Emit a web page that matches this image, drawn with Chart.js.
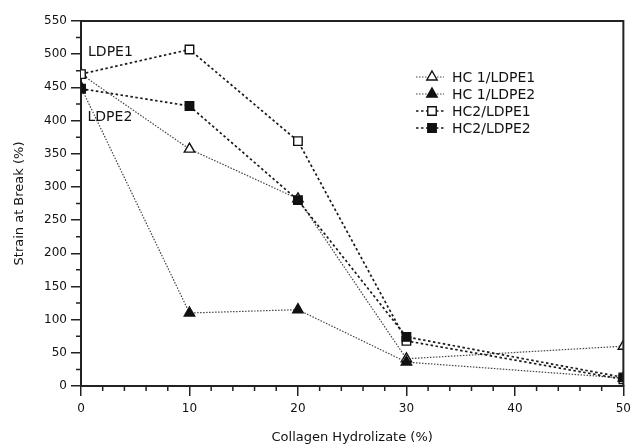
<html lang="en">
<head>
    <meta charset="UTF-8">
    <style>
        body { margin: 0; background: #fff; }
        #wrap { width: 637px; height: 448px; }
    </style>
    <script src="https://cdn.jsdelivr.net/npm/chart.js"></script>
</head>
<body>
<div id="wrap"><canvas id="chart" width="637" height="448"></canvas></div>
<script>
    // collagen hydrolizate content (%)
    const hydrolizate = [0, 10, 20, 30, 50];

    const seriesNames = ["HC1/LDPE1", "HC1/LDPE2", "HC2/LDPE1", "HC2/LDPE2"];
    const legendNames = ["HC 1/LDPE1", "HC 1/LDPE2", "HC2/LDPE1", "HC2/LDPE2"];

    // strain at break (%)
    const hc1Ldpe1 = [470, 357, 282, 41, 60];
    const hc1Ldpe2 = [450, 110, 115, 36, 12];
    const hc2Ldpe1 = [470, 507, 369, 68, 10];
    const hc2Ldpe2 = [448, 422, 280, 74, 13];

    const yTicks = [0, 50, 100, 150, 200, 250, 300, 350, 400, 450, 500, 550];
    const xTicks = [0, 10, 20, 30, 40, 50];

    // text notes next to the y axis
    const noteTexts = ["LDPE1", "LDPE2"];
    const noteX = [0.65, 0.6];
    const noteY = [502, 405];

    const styles = [
        { color: "#444", width: 1.2, dash: [1.5, 1.5], shape: "triangle", fill: "#fff" },
        { color: "#444", width: 1.2, dash: [1.5, 1.5], shape: "triangle", fill: "#111" },
        { color: "#1a1a1a", width: 1.7, dash: [2.5, 2.5], shape: "rect", fill: "#fff" },
        { color: "#1a1a1a", width: 1.7, dash: [2.5, 2.5], shape: "rect", fill: "#111" }
    ];

    const allValues = [hc1Ldpe1, hc1Ldpe2, hc2Ldpe1, hc2Ldpe2];

    function toPoints(values) {
        return hydrolizate.map((x, i) => ({ x: x, y: values[i] }));
    }

    const datasets = allValues.map((vals, i) => ({
        label: seriesNames[i],
        data: toPoints(vals),
        showLine: true,
        borderColor: styles[i].color,
        borderWidth: styles[i].width,
        borderDash: styles[i].dash,
        pointStyle: styles[i].shape,
        pointRadius: 6,
        pointBorderColor: "#111",
        pointBorderWidth: 1.4,
        pointBackgroundColor: styles[i].fill,
        order: 4 - i
    }));

    function drawMarker(ctx, shape, x, y, r, fill) {
        ctx.save();
        ctx.setLineDash([]);
        ctx.beginPath();
        if (shape === "triangle") {
            ctx.moveTo(x, y - r);
            ctx.lineTo(x + r * 0.866, y + r * 0.5);
            ctx.lineTo(x - r * 0.866, y + r * 0.5);
            ctx.closePath();
        } else {
            const s = r * Math.SQRT1_2;
            ctx.rect(x - s, y - s, 2 * s, 2 * s);
        }
        ctx.fillStyle = fill;
        ctx.fill();
        ctx.strokeStyle = "#111";
        ctx.lineWidth = 1.4;
        ctx.stroke();
        ctx.restore();
    }

    const extras = {
        id: "extras",
        afterDraw(chart) {
            const ctx = chart.ctx;
            const area = chart.chartArea;
            const xs = chart.scales.x;
            const ys = chart.scales.y;

            // frame on top and right
            ctx.save();
            ctx.strokeStyle = "#222";
            ctx.lineWidth = 2;
            ctx.beginPath();
            ctx.moveTo(area.left, area.top);
            ctx.lineTo(area.right, area.top);
            ctx.lineTo(area.right, area.bottom);
            ctx.stroke();

            // minor ticks
            ctx.lineWidth = 1.5;
            ctx.beginPath();
            for (let v = 2; v < 50; v += 2) {
                if (v % 10 === 0) continue;
                const px = xs.getPixelForValue(v);
                ctx.moveTo(px, area.bottom);
                ctx.lineTo(px, area.bottom + 5);
            }
            for (let v = 25; v < 550; v += 50) {
                const py = ys.getPixelForValue(v);
                ctx.moveTo(area.left, py);
                ctx.lineTo(area.left - 5, py);
            }
            ctx.stroke();

            // notes
            ctx.fillStyle = "#111";
            ctx.font = "14px 'DejaVu Sans'";
            ctx.textBaseline = "middle";
            ctx.textAlign = "left";
            noteTexts.forEach((t, i) => {
                ctx.fillText(t, xs.getPixelForValue(noteX[i]), ys.getPixelForValue(noteY[i]));
            });

            // legend
            const lx = 416, ly = 77, row = 17;
            legendNames.forEach((name, i) => {
                const y = ly + i * row;
                const st = styles[i];
                ctx.save();
                ctx.strokeStyle = st.color;
                ctx.lineWidth = st.width;
                ctx.setLineDash(st.dash);
                ctx.beginPath();
                ctx.moveTo(lx, y);
                ctx.lineTo(lx + 28, y);
                ctx.stroke();
                ctx.restore();
                drawMarker(ctx, st.shape, lx + 16, y, 6, st.fill);
                ctx.fillStyle = "#111";
                ctx.fillText(name, lx + 36, y + 1);
            });
            ctx.restore();
        }
    };

    new Chart(document.getElementById("chart"), {
        type: "scatter",
        data: { datasets: datasets },
        options: {
            responsive: false,
            animation: false,
            layout: { padding: { top: 21, right: 5, left: 0, bottom: 0 } },
            plugins: {
                legend: { display: false },
                tooltip: { enabled: false }
            },
            scales: {
                x: {
                    type: "linear",
                    min: 0,
                    max: 50,
                    afterFit(scale) { scale.height = 62; },
                    afterBuildTicks(scale) { scale.ticks = xTicks.map(v => ({ value: v })); },
                    grid: { drawOnChartArea: false, tickLength: 10, color: "#222", lineWidth: 1.5 },
                    border: { color: "#222", width: 2 },
                    ticks: { color: "#111", font: { family: "DejaVu Sans", size: 12 }, padding: 6, maxRotation: 0 },
                    title: {
                        display: true,
                        text: "Collagen Hydrolizate (%)",
                        color: "#111",
                        font: { family: "DejaVu Sans", size: 13 },
                        padding: { top: 0, bottom: 3 }
                    }
                },
                y: {
                    type: "linear",
                    min: 0,
                    max: 550,
                    afterFit(scale) { scale.width = 81; },
                    afterBuildTicks(scale) { scale.ticks = yTicks.map(v => ({ value: v })); },
                    grid: { drawOnChartArea: false, tickLength: 10, color: "#222", lineWidth: 1.5 },
                    border: { color: "#222", width: 2 },
                    ticks: { color: "#111", font: { family: "DejaVu Sans", size: 12 }, padding: 4 },
                    title: {
                        display: true,
                        text: "Strain at Break (%)",
                        color: "#111",
                        font: { family: "DejaVu Sans", size: 13 },
                        padding: { top: 12, bottom: 0 }
                    }
                }
            }
        },
        plugins: [extras]
    });
</script>
</body>
</html>
